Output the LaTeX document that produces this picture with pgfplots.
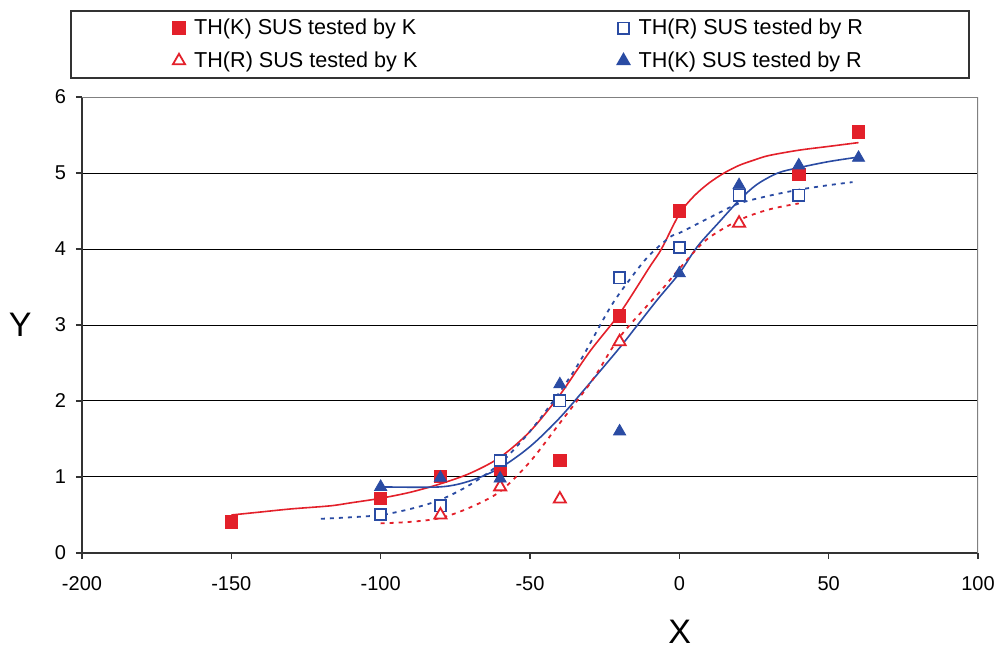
\documentclass[border=0pt]{standalone}
\usepackage{fontspec}
\setmainfont{Liberation Sans}
\usepackage{pgfplots}
\pgfplotsset{compat=1.18}
\definecolor{Red}{HTML}{E3202A}
\definecolor{Blue}{HTML}{2A4BA3}
\definecolor{Border}{HTML}{808080}
\definecolor{Axis}{HTML}{333333}

\begin{document}
\begin{tikzpicture}
\useasboundingbox (-41pt,-49.5pt) rectangle (460pt,276.5pt);
\begin{axis}[
  scale only axis,
  width=448pt,
  height=228pt,
  xmin=-200, xmax=100,
  ymin=0, ymax=6,
  xtick distance=50,
  ytick distance=1,
  axis lines*=left,
  axis line style={Axis,line width=0.9pt},
  tick align=outside,
  major tick length=3pt,
  tick style={Axis,line width=0.8pt},
  ymajorgrids,
  grid style={black,line width=0.5pt},
  ticklabel style={font=\fontsize{10}{12}\selectfont},
  xticklabel shift=5pt,
  yticklabel shift=1.5pt,
  /pgf/number format/assume math mode=true,
  xlabel={X},
  ylabel={Y},
  label style={font=\fontsize{17}{20}\selectfont},
  xlabel style={at={(axis description cs:0.667,-0.173)},anchor=center},
  ylabel style={at={(axis description cs:-0.069,0.5)},anchor=center,rotate=-90},
  legend columns=2,
  legend cell align=left,
  legend image code/.code={\draw[#1] plot coordinates {(0cm,0cm)};},
  legend style={at={(axis description cs:-0.0134,1.1908)},anchor=north west,
    draw=Axis,line width=0.8pt,inner xsep=51pt,inner ysep=3pt,
    font=\fontsize{10.8}{12}\selectfont,row sep=5pt,column sep=2.5pt,
    nodes={inner xsep=2pt,inner ysep=1pt},
    /tikz/every even column/.append style={column sep=98pt}},
]
% fitted curves
\addplot[Red,line width=0.8pt,smooth,forget plot] coordinates {
(-150,0.50) (-140,0.54) (-130,0.58) (-117,0.62) (-110,0.66) (-100,0.72) (-90,0.80)
(-80,0.91) (-70,1.05) (-60,1.26) (-50,1.60) (-40,2.08) (-30,2.65) (-20,3.15)
(-10,3.76) (-6,4.00) (0,4.46) (5,4.70) (10,4.87) (15,5.00) (20,5.10) (25,5.17)
(30,5.23) (40,5.30) (50,5.35) (60,5.40)};
\addplot[Blue,line width=0.8pt,smooth,forget plot] coordinates {
(-100,0.87) (-80,0.87) (-70,0.95) (-60,1.12) (-50,1.40) (-40,1.78) (-29,2.28)
(-20,2.70) (-14,3.00) (-7,3.35) (0,3.68) (6,4.03) (13,4.34) (20,4.64) (26,4.85)
(33,5.00) (40,5.07) (50,5.15) (60,5.21)};
\addplot[Red,line width=0.9pt,dash pattern=on 2pt off 2.5pt,smooth,forget plot] coordinates {
(-100,0.39) (-90,0.41) (-80,0.46) (-70,0.60) (-60,0.81) (-50,1.20) (-40,1.71)
(-29,2.28) (-20,2.84) (-6,3.46) (0,3.74) (9,4.12) (20,4.38) (30,4.52) (40,4.60)};
\addplot[Blue,line width=0.9pt,dash pattern=on 2pt off 2.5pt,smooth,forget plot] coordinates {
(-120,0.45) (-110,0.47) (-100,0.50) (-90,0.58) (-80,0.70) (-70,0.90) (-60,1.18)
(-50,1.60) (-40,2.12) (-33,2.54) (-23,3.24) (-16,3.63) (-10,3.92) (-3,4.16)
(0,4.21) (13,4.47) (20,4.60) (30,4.70) (40,4.78) (50,4.84) (58,4.88)};
% measured points
\addplot[only marks,mark=square*,mark size=3.1pt,Red] coordinates {
(-150,0.41) (-100,0.72) (-80,1.01) (-60,1.10) (-40,1.22) (-20,3.12) (0,4.50) (40,4.98) (60,5.54)};
\addlegendentry{TH(K) SUS tested by K}
\addplot[only marks,mark=square*,mark size=2.8pt,Blue,line width=0.9pt,mark options={fill=white}] coordinates {
(-100,0.51) (-80,0.62) (-60,1.22) (-40,2.00) (-20,3.62) (0,4.02) (20,4.71) (40,4.71)};
\addlegendentry{TH(R) SUS tested by R}
\addplot[only marks,mark=triangle*,mark size=3.5pt,Red,line width=0.9pt,mark options={fill=white}] coordinates {
(-80,0.50) (-60,0.87) (-40,0.71) (-20,2.78) (20,4.34)};
\addlegendentry{TH(R) SUS tested by K}
\addplot[only marks,mark=triangle*,mark size=3.5pt,Blue] coordinates {
(-100,0.87) (-80,0.99) (-60,0.98) (-40,2.22) (-20,1.60) (0,3.68) (20,4.84) (40,5.10) (60,5.20)};
\addlegendentry{TH(K) SUS tested by R}
\draw[Border,line width=1.2pt] (rel axis cs:0,1) -- (rel axis cs:1,1) -- (rel axis cs:1,0);
\end{axis}
\end{tikzpicture}
\end{document}
